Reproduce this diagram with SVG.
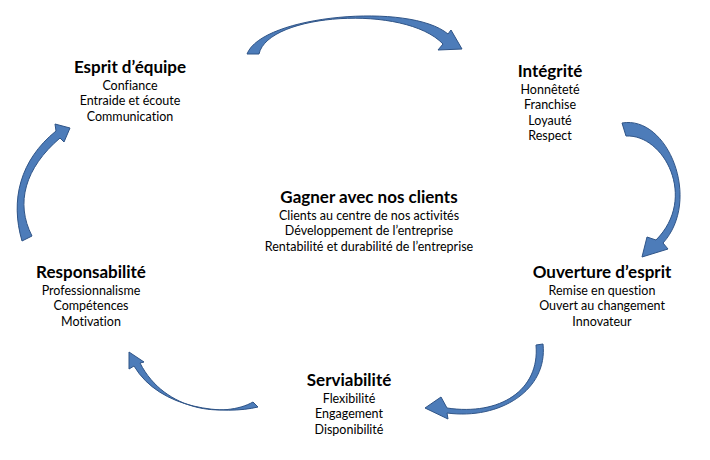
<svg xmlns="http://www.w3.org/2000/svg" width="710" height="460" viewBox="0 0 710 460">
<style>
.t{font-family:Lato,"Liberation Sans",sans-serif;font-weight:bold;font-size:17px;fill:#000;text-anchor:middle;font-variant-ligatures:none}
.s{font-family:Lato,"Liberation Sans",sans-serif;font-size:12.5px;fill:#000;text-anchor:middle;font-variant-ligatures:none}
.a{fill:#4d7cb9;stroke:#2f5487;stroke-width:1;stroke-linejoin:round}
</style>
<rect width="710" height="460" fill="#fff"/>
<g id="connectors">
<path class="a" d="M247,54 C262,15 410,2 448,34 L451,30 L462,49 L438,50 L443,44 C405,4 268,13 259,54 Z"/>
<path class="a" d="M622,123 C668,115 702,200 663,243 L668,249 L642,257 L647,237 L656,240 C698,198 664,134 626,136 Z"/>
<path class="a" d="M543,344 C548,390 500,420 447,413 L448,419 L425,408 L441,397 L447,408 C500,416 540,390 536,345 Z"/>
<path class="a" d="M253,402 C225,418 165,412 140,363 L144,362 L129,352 L129,369 L134,366 C160,410 225,415 258,407 Z"/>
<path class="a" d="M22,241 C10,200 20,160 56,131 L55,124 L70,128 L64,142 L60,138 C25,168 15,203 32,236 Z"/>
</g>
<g id="esprit">
<text class="t" x="130" y="73">Esprit d’équipe</text>
<text class="s" x="130" y="89.5">Confiance</text>
<text class="s" x="130" y="105">Entraide et écoute</text>
<text class="s" x="130" y="120.5">Communication</text>
</g>
<g id="integrite">
<text class="t" x="550" y="77">Intégrité</text>
<text class="s" x="550" y="93.5">Honnêteté</text>
<text class="s" x="550" y="109">Franchise</text>
<text class="s" x="550" y="124.5">Loyauté</text>
<text class="s" x="550" y="140">Respect</text>
</g>
<g id="gagner">
<text class="t" x="369" y="203">Gagner avec nos clients</text>
<text class="s" x="369" y="219.5">Clients au centre de nos activités</text>
<text class="s" x="369" y="235">Développement de l’entreprise</text>
<text class="s" x="369" y="250.5">Rentabilité et durabilité de l’entreprise</text>
</g>
<g id="ouverture">
<text class="t" x="602" y="278">Ouverture d’esprit</text>
<text class="s" x="602" y="294.5">Remise en question</text>
<text class="s" x="602" y="310">Ouvert au changement</text>
<text class="s" x="602" y="325.5">Innovateur</text>
</g>
<g id="responsabilite">
<text class="t" x="91" y="278">Responsabilité</text>
<text class="s" x="91" y="294.5">Professionnalisme</text>
<text class="s" x="91" y="310">Compétences</text>
<text class="s" x="91" y="325.5">Motivation</text>
</g>
<g id="serviabilite">
<text class="t" x="349" y="386">Serviabilité</text>
<text class="s" x="349" y="402.5">Flexibilité</text>
<text class="s" x="349" y="418">Engagement</text>
<text class="s" x="349" y="433.5">Disponibilité</text>
</g>
</svg>
